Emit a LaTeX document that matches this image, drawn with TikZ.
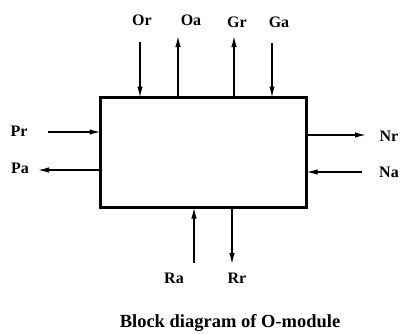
\documentclass[tikz,border=0pt]{standalone}
\usepackage{fontspec}
\setmainfont{Liberation Serif}
\usetikzlibrary{arrows.meta}
\begin{document}
\begin{tikzpicture}[x=1pt,y=-1pt,
  lbl/.style={font=\bfseries\fontsize{16}{18}\selectfont, inner sep=0pt},
  sig/.style={line width=1.3pt, -{Latex[length=11pt,width=5.5pt]}},
  box/.style={draw, line width=2.2pt, minimum width=206pt, minimum height=110pt, inner sep=0pt}]
\useasboundingbox (0,0) rectangle (412,333);
\node[box] (m) at (203.5,152.5) {};
% top
\coordinate (or0) at (140,42); \coordinate (or1) at (140,97.5);
\coordinate (oa0) at (178,97.5); \coordinate (oa1) at (178,36);
\coordinate (gr0) at (234,97.5); \coordinate (gr1) at (234,36);
\coordinate (ga0) at (272,43); \coordinate (ga1) at (272,97.5);
\draw[sig] (or0) -- (or1);
\draw[sig] (oa0) -- (oa1);
\draw[sig] (gr0) -- (gr1);
\draw[sig] (ga0) -- (ga1);
\node[lbl] (tor) at (142,20) {Or};
\node[lbl] (toa) at (191,20) {Oa};
\node[lbl] (tgr) at (237,22) {Gr};
\node[lbl] (tga) at (279,22) {Ga};
% left
\coordinate (pr0) at (48,132); \coordinate (pr1) at (100.5,132);
\coordinate (pa0) at (100.5,170); \coordinate (pa1) at (38,170);
\draw[sig] (pr0) -- (pr1);
\draw[sig] (pa0) -- (pa1);
\node[lbl] (tpr) at (19,131) {Pr};
\node[lbl] (tpa) at (20,168) {Pa};
% right
\coordinate (nr0) at (306.5,135); \coordinate (nr1) at (366,135);
\coordinate (na0) at (362,172); \coordinate (na1) at (306.5,172);
\draw[sig] (nr0) -- (nr1);
\draw[sig] (na0) -- (na1);
\node[lbl] (tnr) at (389,136) {Nr};
\node[lbl] (tna) at (389,172) {Na};
% bottom
\coordinate (ra0) at (194,263); \coordinate (ra1) at (194,207.5);
\coordinate (rr0) at (232,207.5); \coordinate (rr1) at (232,264);
\draw[sig] (ra0) -- (ra1);
\draw[sig] (rr0) -- (rr1);
\node[lbl] (tra) at (174,278) {Ra};
\node[lbl] (trr) at (237,278) {Rr};
\node[lbl, font=\bfseries\fontsize{18.5}{20}\selectfont] (cap) at (230,323) {Block diagram of O-module};
\end{tikzpicture}
\end{document}
